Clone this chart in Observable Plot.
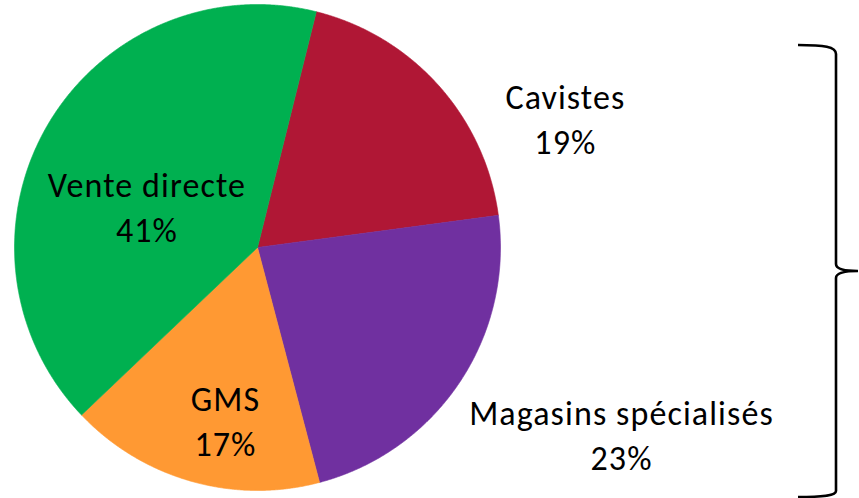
<!DOCTYPE html>
<html>
<head>
<meta charset="utf-8">
<script src="https://cdn.jsdelivr.net/npm/d3@7"></script>
<script src="https://cdn.jsdelivr.net/npm/@observablehq/plot@0.6"></script>
<style>
  html, body { margin: 0; padding: 0; background: #fff; }
  #chart svg { display: block; }
  #chart text { letter-spacing: 1.1px; }
</style>
</head>
<body>
<div id="chart"></div>
<script>
// ---- data ----
const categories = ["Cavistes", "Magasins spécialisés", "GMS", "Vente directe"];
const shares = [19, 23, 17, 41];
const colors = ["#b01735", "#7030a0", "#ff9933", "#00b050"];

// ---- layout (pixels / data units where pie radius = 1) ----
const W = 859, H = 498, CX = 257, CY = 247, R = 243;
const startDeg = 14;
// label anchor points in pie-radius units (x right, y up)
const labelX = [1.267, 1.498, -0.132, -0.455];
const labelY = [0.538, -0.765, -0.706, 0.173];
const fontSize = 34;
const fontFamily = "Carlito, Lato, 'Open Sans', sans-serif";

// ---- slices via d3.pie ----
const pie = d3.pie().sort(null).value(d => d.share)
  .startAngle(startDeg * Math.PI / 180)
  .endAngle(startDeg * Math.PI / 180 + 2 * Math.PI);
const rows = categories.map((c, i) => ({name: c, share: shares[i]}));
const arcs = pie(rows);
const polyPts = [];
for (const a of arcs) {
  polyPts.push({name: a.data.name, x: 0, y: 0});
  const n = Math.ceil((a.endAngle - a.startAngle) / (Math.PI / 720));
  for (let k = 0; k <= n; k++) {
    const t = a.startAngle + (a.endAngle - a.startAngle) * k / n;
    polyPts.push({name: a.data.name, x: Math.sin(t), y: Math.cos(t)});
  }
  polyPts.push({name: a.data.name, x: 0, y: 0});
}
const labels = categories.map((c, i) => ({
  text: `${c}\n${shares[i]}%`, x: labelX[i], y: labelY[i]
}));

// ---- brace (annotation) in pie-radius units ----
const brace = {x: (836 - CX) / R, tip: (858 - CX) / R, end: (798 - CX) / R,
               top: (CY - 45) / R, bottom: (CY - 497) / R, mid: (CY - 271) / R};

function braceMark(index, scales) {
  const sx = scales.x, sy = scales.y;
  const X = sx(brace.x), P = sx(brace.tip), E = sx(brace.end);
  const T = sy(brace.top), B = sy(brace.bottom), M = sy(brace.mid);
  const p = d3.path();
  p.moveTo(E, T);
  p.bezierCurveTo(X - 12, T, X, T + 1.5, X, T + 9);
  p.lineTo(X, M - 7);
  p.bezierCurveTo(X, M - 2.5, X + 8, M, P, M);
  p.bezierCurveTo(X + 8, M, X, M + 2.5, X, M + 7);
  p.lineTo(X, B - 6);
  p.bezierCurveTo(X, B - 1.5, X - 12, B, E, B);
  const el = document.createElementNS("http://www.w3.org/2000/svg", "path");
  el.setAttribute("d", p.toString());
  el.setAttribute("fill", "none");
  el.setAttribute("stroke", "#000");
  el.setAttribute("stroke-width", "2.6");
  return el;
}

const chart = Plot.plot({
  width: W, height: H, margin: 0,
  x: {domain: [-CX / R, (W - CX) / R], range: [0, W], axis: null},
  y: {domain: [(CY - H) / R, CY / R], range: [H, 0], axis: null},
  color: {domain: categories, range: colors},
  style: {fontFamily, background: "#fff"},
  marks: [
    Plot.line(polyPts, {x: "x", y: "y", z: "name", fill: "name", stroke: "name", strokeWidth: 0.6}),
    Plot.text(labels, {x: "x", y: "y", text: "text", fontSize, fontFamily,
      lineAnchor: "middle", lineHeight: 45 / fontSize, fill: "#000"}),
    braceMark
  ]
});
document.getElementById("chart").appendChild(chart);
</script>
</body>
</html>
